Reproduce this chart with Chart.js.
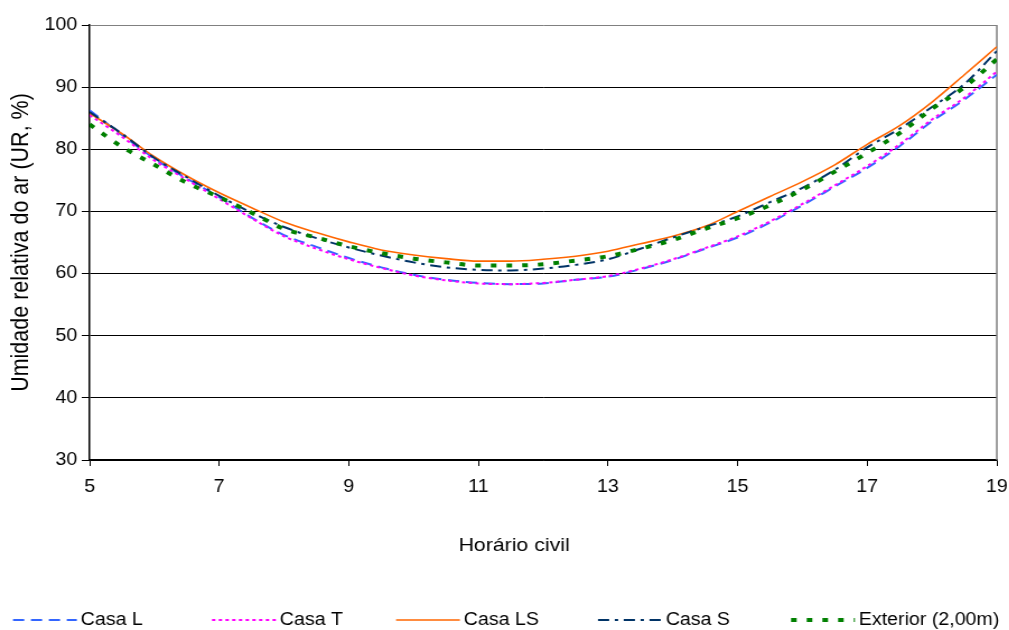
<!DOCTYPE html>
<html>
<head>
<meta charset="utf-8">
<script src="https://cdn.jsdelivr.net/npm/chart.js@4/dist/chart.umd.min.js"></script>
<style>
  html, body { margin: 0; padding: 0; background: #fff; overflow: hidden; }
  #wrap { width: 901px; height: 630px; transform: scaleX(1.12); transform-origin: 0 0; }
  canvas { display: block; }
</style>
</head>
<body>
<div id="wrap"><canvas id="c" width="901" height="630" style="width:901px;height:630px"></canvas></div>
<script>
// ---- data ----
const hours = [5, 5.5, 6, 6.5, 7, 7.5, 8, 8.5, 9, 9.5, 10, 10.5, 11, 11.5, 12, 12.5, 13, 13.5, 14, 14.5, 15, 15.5, 16, 16.5, 17, 17.5, 18, 18.5, 19];
const casaL  = [86.3, 82.3, 78.5, 75.3, 72.3, 69.0, 66.2, 64.3, 62.5, 61.0, 59.8, 59.0, 58.5, 58.3, 58.4, 59.0, 59.5, 60.7, 62.2, 64.0, 65.8, 68.2, 71.0, 74.0, 77.0, 80.5, 84.5, 88.0, 92.0];
const casaT  = [85.5, 82.0, 78.2, 75.1, 72.0, 68.9, 66.0, 64.0, 62.3, 60.9, 59.7, 58.9, 58.4, 58.3, 58.5, 59.0, 59.6, 60.8, 62.3, 64.1, 66.0, 68.4, 71.2, 74.2, 77.3, 80.8, 84.8, 88.3, 92.5];
const casaLS = [85.8, 82.5, 78.8, 75.7, 73.0, 70.6, 68.3, 66.6, 65.1, 63.8, 63.0, 62.4, 62.0, 62.0, 62.3, 62.8, 63.6, 64.8, 66.0, 67.6, 70.0, 72.4, 74.8, 77.5, 80.8, 83.8, 87.6, 92.0, 96.5];
const casaS  = [86.0, 82.5, 78.6, 75.5, 72.5, 69.8, 67.5, 65.7, 64.2, 62.9, 61.8, 61.0, 60.6, 60.5, 60.8, 61.4, 62.3, 64.0, 65.8, 67.5, 69.2, 71.5, 73.8, 76.7, 80.3, 83.3, 86.8, 90.5, 95.8];
const exterior = [84.0, 80.4, 77.5, 74.6, 72.3, 69.8, 67.2, 65.8, 64.4, 63.3, 62.4, 61.8, 61.3, 61.3, 61.5, 62.1, 62.8, 64.0, 65.4, 67.2, 68.9, 71.0, 73.5, 76.4, 79.4, 82.6, 86.5, 90.0, 94.5];
const seriesNames = ["Casa L", "Casa T", "Casa LS", "Casa S", "Exterior (2,00m)"];
const xTicks = [5, 7, 9, 11, 13, 15, 17, 19];
const yTicks = [30, 40, 50, 60, 70, 80, 90, 100];
const xTitle = "Horário civil";
const yTitle = "Umidade relativa do ar (UR, %)";

const FONT = "'Liberation Sans', Arial, sans-serif";
const pts = arr => arr.map((v, i) => ({ x: hours[i], y: v }));

const styles = [
  { color: '#3366ff', dash: [10, 6], width: 2, order: 4 },
  { color: '#ff00ff', dash: [3, 3], width: 2, order: 3 },
  { color: '#ff6600', dash: [], width: 1.6, order: 2 },
  { color: '#003366', dash: [10, 5, 3, 5], width: 2, order: 1 },
  { color: '#008000', dash: [5, 9], width: 4, order: 0 }
];
const values = [casaL, casaT, casaLS, casaS, exterior];

const datasets = values.map((v, i) => ({
  label: seriesNames[i],
  data: pts(v),
  borderColor: styles[i].color,
  backgroundColor: styles[i].color,
  borderDash: styles[i].dash,
  borderWidth: styles[i].width,
  borderCapStyle: 'butt',
  pointRadius: 0,
  fill: false,
  cubicInterpolationMode: 'monotone',
  order: styles[i].order
}));

const legendX = [11.6, 189.3, 353.6, 533.9, 706.3];
const frameAndLegend = {
  id: 'frameAndLegend',
  beforeDatasetsDraw(chart) {
    const { ctx, chartArea: a } = chart;
    ctx.save();
    ctx.strokeStyle = '#808080';
    ctx.lineWidth = 1.5;
    ctx.beginPath();
    ctx.moveTo(a.right, a.top);
    ctx.lineTo(a.right, a.bottom);
    ctx.stroke();
    ctx.restore();
  },
  afterDraw(chart) {
    const ctx = chart.ctx;
    ctx.save();
    // x axis title
    ctx.fillStyle = '#000';
    ctx.font = '19px ' + FONT;
    ctx.textBaseline = 'middle';
    ctx.textAlign = 'center';
    ctx.fillText(xTitle, 459, 546);
    // legend
    const y = 620;
    chart.data.datasets.forEach((ds, i) => {
      const x0 = legendX[i];
      ctx.strokeStyle = ds.borderColor;
      ctx.lineWidth = ds.borderWidth;
      ctx.setLineDash(ds.borderDash);
      ctx.lineCap = 'butt';
      ctx.beginPath();
      ctx.moveTo(x0, y);
      ctx.lineTo(x0 + 57, y);
      ctx.stroke();
      ctx.setLineDash([]);
      ctx.fillStyle = '#000';
      ctx.font = '17.5px ' + FONT;
      ctx.textBaseline = 'middle';
      ctx.textAlign = 'left';
      ctx.fillText(ds.label, x0 + 60.5, y);
    });
    ctx.restore();
  }
};

new Chart(document.getElementById('c'), {
  type: 'line',
  data: { datasets },
  options: {
    responsive: false,
    devicePixelRatio: 1,
    animation: false,
    layout: { padding: { left: 0, right: 11, top: 25, bottom: 0 } },
    plugins: { legend: { display: false }, tooltip: { enabled: false } },
    scales: {
      x: {
        type: 'linear',
        min: 5, max: 19,
        afterFit(s) { s.height = 170; s.paddingLeft = 0; s.paddingRight = 0; },
        afterBuildTicks(s) { s.ticks = xTicks.map(v => ({ value: v })); },
        ticks: { color: '#000', font: { family: FONT, size: 17.5 }, padding: 11, maxRotation: 0 },
        grid: { display: true, drawOnChartArea: false, drawTicks: true, tickLength: 6, tickColor: '#000', color: '#000' },
        border: { display: true, color: '#000', width: 1.5 },
        title: { display: false }
      },
      y: {
        type: 'linear',
        min: 30, max: 100,
        afterFit(s) { s.width = 80; s.paddingTop = 0; s.paddingBottom = 0; },
        afterBuildTicks(s) { s.ticks = yTicks.map(v => ({ value: v })); },
        ticks: { color: '#000', font: { family: FONT, size: 17.5 }, padding: 4 },
        grid: {
          color: c => (c.tick && c.tick.value === 100) ? '#808080' : '#000',
          lineWidth: 1, drawTicks: true, tickLength: 7, tickColor: '#000'
        },
        border: { display: true, color: '#000', width: 1.5 },
        title: { display: true, text: yTitle, color: '#000', font: { family: FONT, size: 21.5 }, padding: { top: 6, bottom: 0 } }
      }
    }
  },
  plugins: [frameAndLegend]
});
</script>
</body>
</html>
